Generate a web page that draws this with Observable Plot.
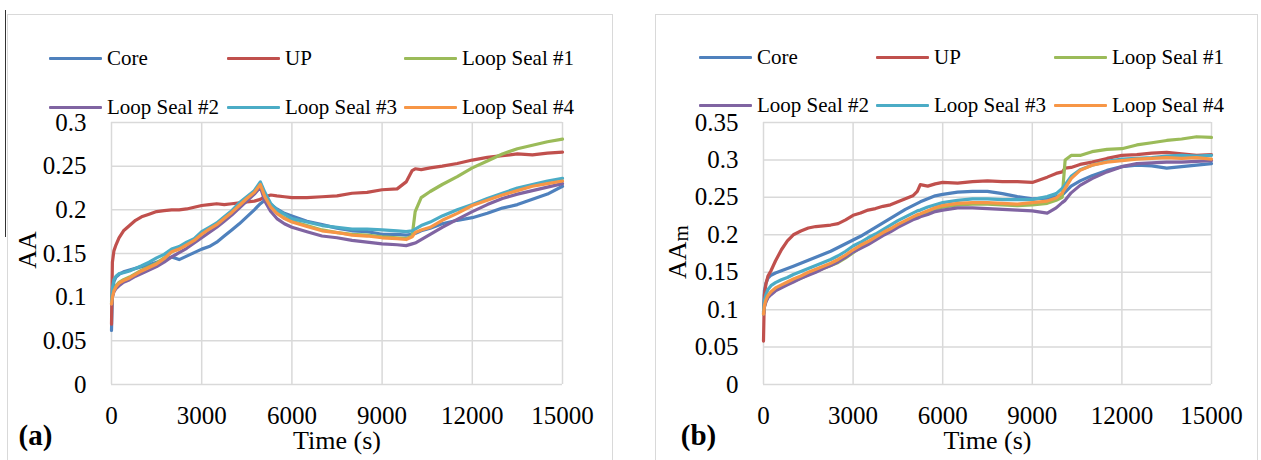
<!DOCTYPE html>
<html><head><meta charset="utf-8">
<script src="https://cdn.jsdelivr.net/npm/d3@7"></script>
<script src="https://cdn.jsdelivr.net/npm/@observablehq/plot@0.6"></script>
<style>
html,body{margin:0;padding:0;background:#fff;}
body{width:1261px;height:460px;overflow:hidden;position:relative;font-family:"Liberation Serif","Times New Roman",serif;color:#000;}
.panel{position:absolute;top:14px;height:470px;border:1px solid #d9d9d9;box-sizing:border-box;}
.leg{position:absolute;font-size:21px;line-height:24px;white-space:nowrap;display:flex;align-items:center;font-family:"Liberation Serif",serif;}
.leg .sw{display:inline-block;width:53px;height:3px;margin-right:5px;border-radius:1px;}
.chart{position:absolute;top:100px;}
.chart svg, .chart svg text{font-family:"Liberation Serif","Times New Roman",serif !important;}
</style></head>
<body>
<div class="panel" style="left:7px;width:606px;"></div>
<div class="panel" style="left:655px;width:603px;"></div>
<div style="position:absolute;left:5px;top:10px;width:1px;height:227px;background:#333;"></div>
<div id="legA"></div><div id="legB"></div>
<div id="chartA" class="chart" style="left:7px;"></div>
<div id="chartB" class="chart" style="left:656px;"></div>
<script>
const seriesNames = ["Core", "UP", "Loop Seal #1", "Loop Seal #2", "Loop Seal #3", "Loop Seal #4"];
const seriesColors = ["#4F81BD", "#C0504D", "#9BBB59", "#8064A2", "#4BACC6", "#F79646"];
const xTicks = [0, 3000, 6000, 9000, 12000, 15000];
const yTicksA = [0, 0.05, 0.1, 0.15, 0.2, 0.25, 0.3];
const yTicksB = [0, 0.05, 0.1, 0.15, 0.2, 0.25, 0.3, 0.35];

// Panel (a): AA
const timeA = [0,30,80,150,250,400,600,800,1000,1250,1500,1750,2000,2250,2500,2750,3000,3250,3500,3750,4000,4250,4500,4750,4950,5100,5300,5500,5750,6000,6500,7000,7500,8000,8500,9000,9500,9800,10000,10100,10300,10600,11000,11500,12000,12500,13000,13500,14000,14500,15000];
const coreA = [0.062,0.100,0.118,0.123,0.126,0.129,0.131,0.133,0.135,0.137,0.140,0.143,0.146,0.143,0.147,0.151,0.155,0.158,0.163,0.170,0.177,0.184,0.192,0.200,0.207,0.211,0.206,0.201,0.196,0.193,0.187,0.183,0.179,0.176,0.175,0.172,0.172,0.171,0.172,0.173,0.176,0.179,0.184,0.188,0.191,0.196,0.202,0.206,0.212,0.218,0.227];
const upA = [0.069,0.140,0.153,0.160,0.168,0.176,0.182,0.188,0.192,0.195,0.198,0.199,0.200,0.200,0.201,0.203,0.205,0.206,0.207,0.206,0.207,0.208,0.209,0.210,0.212,0.215,0.217,0.216,0.215,0.214,0.214,0.215,0.216,0.219,0.220,0.223,0.224,0.232,0.245,0.247,0.246,0.248,0.250,0.253,0.257,0.260,0.262,0.264,0.263,0.265,0.266];
const ls1A = [0.093,0.102,0.108,0.113,0.117,0.120,0.123,0.127,0.131,0.135,0.139,0.145,0.152,0.156,0.161,0.166,0.173,0.178,0.184,0.191,0.198,0.206,0.214,0.221,0.230,0.216,0.204,0.197,0.191,0.187,0.182,0.177,0.174,0.172,0.171,0.169,0.168,0.167,0.170,0.198,0.214,0.221,0.229,0.238,0.248,0.256,0.264,0.270,0.274,0.278,0.281];
const ls2A = [0.092,0.100,0.106,0.110,0.113,0.117,0.120,0.124,0.127,0.131,0.135,0.140,0.146,0.151,0.156,0.162,0.168,0.174,0.180,0.187,0.194,0.202,0.210,0.218,0.226,0.210,0.198,0.190,0.184,0.180,0.175,0.170,0.168,0.165,0.163,0.161,0.160,0.159,0.161,0.162,0.166,0.172,0.180,0.189,0.198,0.206,0.213,0.218,0.222,0.226,0.230];
const ls3A = [0.095,0.110,0.120,0.124,0.127,0.128,0.130,0.133,0.136,0.140,0.145,0.149,0.155,0.158,0.163,0.167,0.175,0.180,0.185,0.192,0.199,0.208,0.215,0.222,0.232,0.220,0.207,0.200,0.195,0.190,0.186,0.182,0.180,0.178,0.178,0.177,0.176,0.175,0.176,0.178,0.182,0.186,0.193,0.200,0.206,0.213,0.219,0.225,0.229,0.233,0.236];
const ls4A = [0.092,0.100,0.107,0.112,0.116,0.119,0.122,0.126,0.130,0.134,0.138,0.144,0.152,0.155,0.160,0.165,0.172,0.178,0.183,0.190,0.197,0.205,0.213,0.220,0.229,0.215,0.203,0.196,0.190,0.186,0.181,0.176,0.174,0.171,0.170,0.168,0.167,0.166,0.169,0.174,0.177,0.180,0.188,0.196,0.205,0.211,0.217,0.222,0.227,0.230,0.233];

// Panel (b): AAm
const timeB = [0,30,80,150,250,400,600,800,1000,1250,1500,1750,2000,2250,2500,2750,3000,3250,3500,3750,4000,4250,4500,4750,5000,5150,5250,5500,5750,6000,6500,7000,7500,8000,8500,9000,9500,9800,10000,10100,10300,10600,11000,11500,12000,12500,13000,13500,14000,14500,15000];
const coreB = [0.095,0.125,0.135,0.142,0.146,0.149,0.152,0.155,0.158,0.162,0.166,0.170,0.174,0.178,0.183,0.188,0.193,0.198,0.204,0.210,0.216,0.222,0.228,0.234,0.239,0.242,0.244,0.248,0.252,0.254,0.257,0.258,0.258,0.255,0.251,0.248,0.249,0.251,0.253,0.257,0.265,0.272,0.279,0.286,0.291,0.293,0.292,0.289,0.291,0.293,0.295];
const upB = [0.058,0.120,0.134,0.145,0.152,0.165,0.180,0.192,0.200,0.205,0.209,0.211,0.212,0.213,0.215,0.220,0.226,0.229,0.233,0.235,0.238,0.240,0.244,0.248,0.252,0.258,0.267,0.265,0.268,0.270,0.269,0.271,0.272,0.271,0.271,0.270,0.277,0.282,0.284,0.289,0.290,0.294,0.297,0.302,0.306,0.307,0.309,0.310,0.308,0.306,0.307];
const ls1B = [0.094,0.104,0.111,0.117,0.121,0.126,0.130,0.134,0.138,0.142,0.147,0.151,0.155,0.159,0.163,0.169,0.176,0.183,0.189,0.195,0.201,0.206,0.212,0.217,0.222,0.225,0.226,0.230,0.234,0.237,0.240,0.241,0.241,0.240,0.239,0.240,0.242,0.246,0.250,0.300,0.306,0.306,0.311,0.314,0.315,0.320,0.323,0.326,0.328,0.331,0.330];
const ls2B = [0.094,0.103,0.110,0.116,0.120,0.125,0.129,0.133,0.137,0.142,0.146,0.150,0.155,0.159,0.164,0.170,0.177,0.182,0.187,0.193,0.199,0.204,0.210,0.215,0.220,0.222,0.224,0.227,0.231,0.233,0.236,0.236,0.235,0.234,0.233,0.232,0.229,0.236,0.243,0.246,0.256,0.266,0.275,0.284,0.291,0.295,0.296,0.297,0.297,0.298,0.299];
const ls3B = [0.097,0.112,0.120,0.127,0.132,0.136,0.140,0.143,0.147,0.151,0.155,0.159,0.163,0.167,0.172,0.178,0.185,0.190,0.196,0.201,0.207,0.213,0.219,0.224,0.229,0.232,0.233,0.237,0.240,0.243,0.246,0.248,0.248,0.247,0.247,0.247,0.251,0.255,0.262,0.267,0.278,0.287,0.293,0.298,0.301,0.302,0.303,0.305,0.306,0.305,0.306];
const ls4B = [0.094,0.105,0.113,0.119,0.124,0.129,0.133,0.137,0.141,0.145,0.150,0.154,0.158,0.162,0.167,0.173,0.180,0.186,0.191,0.197,0.203,0.208,0.214,0.219,0.224,0.227,0.228,0.232,0.236,0.239,0.242,0.243,0.243,0.242,0.241,0.243,0.245,0.249,0.256,0.262,0.275,0.286,0.293,0.297,0.299,0.301,0.302,0.303,0.302,0.303,0.301];

function rows(time, arrays) {
  const out = [];
  arrays.forEach((arr, i) => arr.forEach((v, j) => out.push({series: seriesNames[i], t: time[j], v})));
  return out;
}

function legend(id, lineX, rowsY) {
  const el = document.getElementById(id);
  seriesNames.forEach((name, i) => {
    const d = document.createElement("div");
    d.className = "leg";
    d.style.left = lineX[i % 3] + "px";
    d.style.top = (rowsY[Math.floor(i / 3)] - 12) + "px";
    d.innerHTML = `<span class="sw" style="background:${seriesColors[i]}"></span><span>${name}</span>`;
    el.appendChild(d);
  });
}
legend("legA", [49, 227, 404], [58, 107]);
legend("legB", [699, 876, 1054], [57, 105]);

function chart(opts) {
  const {width, mL, mR, yMax, yTicks, data, tag, tagDx} = opts;
  const height = 360, mT = 22, mB = 76;
  const grid = {stroke: "#d9d9d9", strokeOpacity: 1, strokeWidth: 1.5};
  const p = Plot.plot({
    width, height, marginLeft: mL, marginRight: mR, marginTop: mT, marginBottom: mB,
    style: {fontFamily: "Liberation Serif, serif", fontSize: "25px", color: "#000", background: "transparent", overflow: "visible"},
    x: {domain: [0, 15000]},
    y: {domain: [0, yMax]},
    color: {domain: seriesNames, range: seriesColors},
    marks: [
      Plot.gridX(xTicks, grid),
      Plot.gridY(yTicks, grid),
      Plot.axisX(xTicks, {tickSize: 0, tickPadding: 22, label: null, tickFormat: d => String(d), fontSize: 25}),
      Plot.axisY(yTicks, {tickSize: 0, tickPadding: 25, label: null, tickFormat: d => String(d), fontSize: 25}),
      Plot.line(data, {x: "t", y: "v", z: "series", stroke: "series", strokeWidth: 3.2, strokeLinejoin: "round", strokeLinecap: "round"}),
      Plot.text(["Time (s)"], {frameAnchor: "bottom", dy: 56, text: d => d, fontSize: 26, lineAnchor: "middle"}),
      Plot.text([tag], {frameAnchor: "bottom-left", dx: tagDx, dy: 51, text: d => d, fontSize: 29, fontWeight: "bold", lineAnchor: "middle", textAnchor: "middle"})
    ]
  });
  return p;
}

const svgA = chart({width: 605, mL: 104, mR: 50, yMax: 0.3, yTicks: yTicksA,
  data: rows(timeA, [coreA, upA, ls1A, ls2A, ls3A, ls4A]), tag: "(a)", tagDx: -76});
document.getElementById("chartA").appendChild(svgA);
const svgB = chart({width: 601, mL: 107, mR: 46, yMax: 0.35, yTicks: yTicksB,
  data: rows(timeB, [coreB, upB, ls1B, ls2B, ls3B, ls4B]), tag: "(b)", tagDx: -65});
document.getElementById("chartB").appendChild(svgB);

// rotated y-axis titles
d3.select(svgA).append("text")
  .attr("transform", "translate(20,150) rotate(-90)")
  .attr("text-anchor", "middle").attr("dominant-baseline", "central")
  .attr("font-size", 26).attr("fill", "#000").text("AA");
const tB = d3.select(svgB).append("text")
  .attr("transform", "translate(21,152) rotate(-90)")
  .attr("text-anchor", "middle").attr("dominant-baseline", "central")
  .attr("font-size", 26).attr("fill", "#000");
tB.append("tspan").text("AA");
tB.append("tspan").attr("font-size", 21).attr("dy", 4).text("m");
</script>
</body></html>
